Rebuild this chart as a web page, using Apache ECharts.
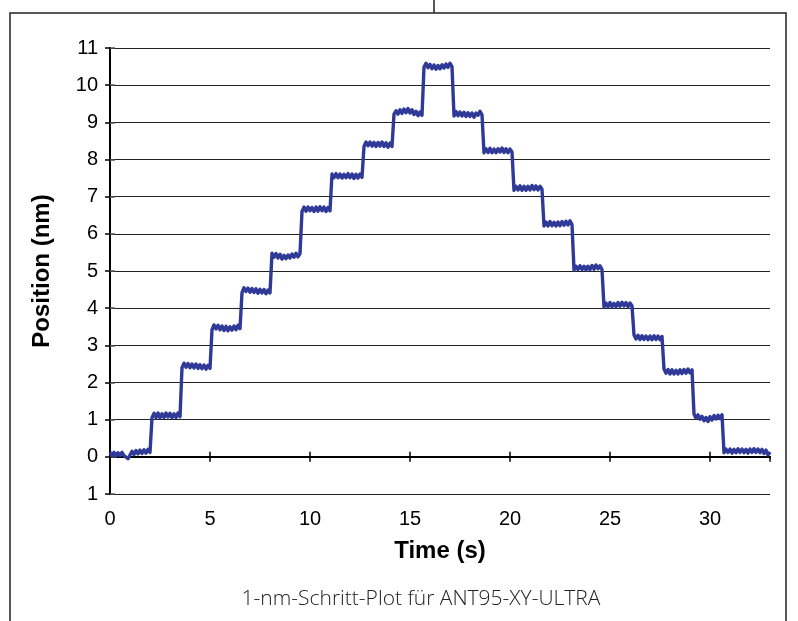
<!DOCTYPE html>
<html>
<head>
<meta charset="utf-8">
<style>
  html, body { margin: 0; padding: 0; background: #fff; }
  #chart { width: 798px; height: 621px; }
</style>
<script src="https://cdn.jsdelivr.net/npm/echarts@6/dist/echarts.min.js"></script>
</head>
<body>
<div id="chart"></div>
<script>
// Sampling clock of the stage position recording (seconds)
const sampleInterval = 0.1;

// Measured stage position (nm), one value per sample, grouped by plateau
const positionNm = [
  // ~0.1 nm
  0.13, 0.03, 0.12, 0.02, 0.11, 0.04, 0.12, 0.03, 0.08, -0.05, 0.05, 0.15, 0.06, 0.17, 0.08, 0.18, 0.09, 0.19, 0.10, 0.20, 0.12,
  // ~1.1 nm
  1.05, 1.17, 1.06, 1.18, 1.05, 1.16, 1.06, 1.18, 1.07, 1.17, 1.05, 1.16, 1.06, 1.18, 1.08,
  // ~2.4 nm
  2.40, 2.52, 2.41, 2.51, 2.40, 2.50, 2.39, 2.50, 2.38, 2.48, 2.37, 2.47, 2.36, 2.46, 2.38,
  // ~3.5 nm
  3.42, 3.55, 3.44, 3.54, 3.42, 3.52, 3.40, 3.51, 3.39, 3.50, 3.41, 3.52, 3.42, 3.54, 3.45,
  // ~4.5 nm
  4.42, 4.55, 4.45, 4.54, 4.43, 4.53, 4.42, 4.52, 4.40, 4.51, 4.41, 4.50, 4.39, 4.49, 4.41,
  // ~5.4 nm
  5.48, 5.37, 5.47, 5.35, 5.45, 5.32, 5.42, 5.33, 5.43, 5.35, 5.46, 5.37, 5.48, 5.38, 5.47,
  // ~6.7 nm
  6.60, 6.72, 6.61, 6.72, 6.62, 6.71, 6.60, 6.72, 6.61, 6.73, 6.62, 6.72, 6.60, 6.71, 6.62,
  // ~7.6 nm
  7.61, 7.51, 7.62, 7.51, 7.61, 7.50, 7.60, 7.51, 7.62, 7.51, 7.61, 7.49, 7.60, 7.50, 7.61, 7.52,
  // ~8.4 nm
  8.35, 8.47, 8.37, 8.47, 8.36, 8.46, 8.35, 8.46, 8.36, 8.47, 8.35, 8.45, 8.33, 8.44, 8.35,
  // ~9.3 nm
  9.22, 9.31, 9.22, 9.34, 9.24, 9.36, 9.26, 9.37, 9.25, 9.34, 9.21, 9.30, 9.18, 9.28, 9.19,
  // ~10.5 nm (turning point)
  10.49, 10.59, 10.47, 10.56, 10.44, 10.54, 10.43, 10.53, 10.44, 10.55, 10.46, 10.57, 10.48, 10.59, 10.50,
  // ~9.2 nm
  9.17, 9.29, 9.18, 9.28, 9.17, 9.27, 9.16, 9.26, 9.16, 9.25, 9.14, 9.25, 9.19, 9.30, 9.20,
  // ~8.2 nm
  8.18, 8.29, 8.19, 8.30, 8.18, 8.28, 8.18, 8.29, 8.20, 8.31, 8.19, 8.29, 8.18, 8.28, 8.20,
  // ~7.2 nm
  7.17, 7.28, 7.18, 7.29, 7.17, 7.28, 7.17, 7.28, 7.18, 7.30, 7.19, 7.29, 7.18, 7.28, 7.20,
  // ~6.3 nm
  6.21, 6.32, 6.21, 6.33, 6.22, 6.31, 6.21, 6.32, 6.22, 6.33, 6.23, 6.34, 6.24, 6.35, 6.25,
  // ~5.1 nm
  5.03, 5.13, 5.04, 5.14, 5.04, 5.13, 5.03, 5.13, 5.04, 5.15, 5.05, 5.16, 5.06, 5.14, 5.04,
  // ~4.1 nm
  4.03, 4.14, 4.04, 4.15, 4.04, 4.13, 4.04, 4.15, 4.05, 4.16, 4.06, 4.15, 4.04, 4.14, 4.06,
  // ~3.2 nm
  3.28, 3.17, 3.27, 3.16, 3.26, 3.16, 3.25, 3.15, 3.25, 3.15, 3.26, 3.16, 3.25, 3.15, 3.24,
  // ~2.3 nm
  2.36, 2.25, 2.35, 2.23, 2.34, 2.23, 2.33, 2.23, 2.34, 2.24, 2.35, 2.25, 2.36, 2.26, 2.34,
  // ~1.1 nm
  1.15, 1.04, 1.13, 1.01, 1.09, 0.97, 1.06, 0.95, 1.08, 0.99, 1.11, 1.02, 1.12, 1.03, 1.13,
  // back near 0
  0.11, 0.21, 0.12, 0.21, 0.10, 0.20, 0.11, 0.22, 0.12, 0.21, 0.11, 0.20, 0.10, 0.21, 0.12, 0.22, 0.12, 0.21, 0.11, 0.20, 0.09, 0.18, 0.05, 0.13
];

// Axis ranges and labels
const timeRange = [0, 33];
const timeTickStep = 5;
const positionRange = [-1, 11];
const positionTickStep = 1;
const xAxisTitle = 'Time (s)';
const yAxisTitle = 'Position (nm)';
const captionText = '1-nm-Schritt-Plot für ANT95-XY-ULTRA';

// Pair each sample with its time stamp
const seriesData = positionNm.map((v, i) => [+(i * sampleInterval).toFixed(2), v]);

const axisFont = 'Liberation Sans, Arial, Helvetica, sans-serif';
const chart = echarts.init(document.getElementById('chart'), null, { renderer: 'canvas' });

const frameAxis = {
  axisLine: { show: true, lineStyle: { color: '#000', width: 2 } },
  splitLine: { show: false },
  axisLabel: { show: false },
  axisTick: { show: true, inside: true, length: 5, lineStyle: { color: '#000', width: 1.5 } }
};

chart.setOption({
  animation: false,
  backgroundColor: '#fff',
  grid: { left: 110, right: 28, top: 48, bottom: 127, containLabel: false },
  xAxis: [
    {
      type: 'value', min: timeRange[0], max: timeRange[1], interval: timeTickStep,
      position: 'bottom',
      name: xAxisTitle, nameLocation: 'middle', nameGap: 45,
      nameTextStyle: { fontFamily: axisFont, fontWeight: 'bold', fontSize: 24, color: '#000' },
      axisLine: { show: true, lineStyle: { color: '#000', width: 2 } },
      axisTick: { show: true, inside: true, length: 5, lineStyle: { color: '#000', width: 1.5 } },
      axisLabel: {
        fontFamily: axisFont, fontSize: 20, color: '#000', margin: 15,
        showMaxLabel: false
      },
      splitLine: { show: false }
    },
    Object.assign({ type: 'value', min: timeRange[0], max: timeRange[1], interval: timeTickStep, position: 'top' }, frameAxis)
  ],
  yAxis: [
    {
      type: 'value', min: positionRange[0], max: positionRange[1], interval: positionTickStep,
      position: 'left',
      name: yAxisTitle, nameLocation: 'middle', nameGap: 56, nameRotate: 90,
      nameTextStyle: { fontFamily: axisFont, fontWeight: 'bold', fontSize: 24, color: '#000' },
      axisLine: { show: true, lineStyle: { color: '#000', width: 2 } },
      axisTick: { show: true, inside: true, length: 5, lineStyle: { color: '#555', width: 1.5 } },
      axisLabel: {
        fontFamily: axisFont, fontSize: 20, color: '#000', margin: 12,
        formatter: v => String(Math.abs(v))
      },
      splitLine: { show: true, lineStyle: { color: '#222', width: 1.2 } }
    },
    Object.assign({ type: 'value', min: positionRange[0], max: positionRange[1], interval: positionTickStep, position: 'right' }, frameAxis)
  ],
  graphic: [
    {
      type: 'rect', silent: true,
      shape: { x: 10, y: 13, width: 776, height: 640 },
      style: { fill: 'none', stroke: '#222', lineWidth: 1.5 }
    },
    {
      type: 'line', silent: true,
      shape: { x1: 434, y1: 0, x2: 434, y2: 13 },
      style: { stroke: '#222', lineWidth: 1.5 }
    },
    {
      type: 'text', silent: true,
      x: 421, y: 599,
      style: {
        text: captionText, fill: '#222',
        font: '300 21px "Open Sans", "Noto Sans", sans-serif',
        align: 'center', verticalAlign: 'middle'
      }
    }
  ],
  series: [
    {
      type: 'line', xAxisIndex: 0, yAxisIndex: 0,
      data: seriesData,
      showSymbol: false, symbol: 'none',
      lineStyle: { color: '#2f3a98', width: 3.4, join: 'round' },
      z: 5
    }
  ]
});
</script>
</body>
</html>
